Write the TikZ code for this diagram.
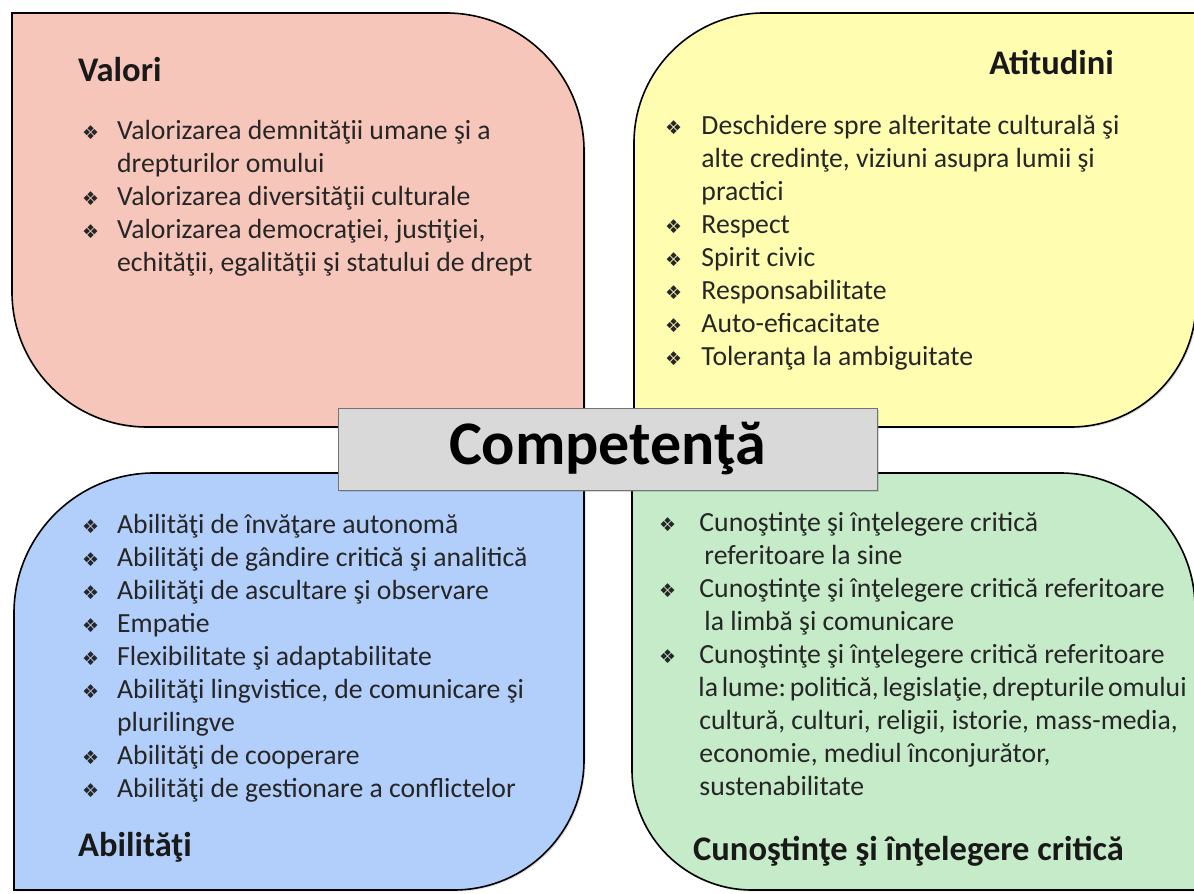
\documentclass[tikz,border=0pt]{standalone}
\usepackage{fontspec}
\setmainfont{Carlito}
\newfontfamily\bulfnt{DejaVu Sans}
\usetikzlibrary{shadows}
\definecolor{pinkfill}{HTML}{F6C6BA}
\definecolor{yellowfill}{HTML}{FFFDB0}
\definecolor{bluefill}{HTML}{B2CEFA}
\definecolor{greenfill}{HTML}{C6EBC8}
\definecolor{compgray}{HTML}{D9D9D9}
\newcommand{\bodyfnt}{\fontsize{27.7}{33}\selectfont\frenchspacing}
\newcommand{\headfnt}{\fontsize{34.5}{40}\selectfont\bfseries}
\newcommand{\blt}[1][35pt]{\makebox[#1][l]{\bulfnt\fontsize{19}{19}\selectfont ❖}}
\newcommand{\ind}[1][35pt]{\hspace*{#1}}
\tikzset{
  box/.style={draw=black,line width=1.6pt,
              drop shadow={opacity=0.25,shadow xshift=1.5pt,shadow yshift=-1.5pt}},
  hd/.style={font=\headfnt,inner sep=0pt,text=black!90},
  lst/.style={anchor=base west,inner sep=0pt,text=black!85},
  comp/.style={rectangle,draw=black!55,fill=compgray,line width=0.8pt,
               minimum width=539pt,minimum height=82pt,
               font=\fontsize{62}{70}\selectfont\bfseries,text=black,
               drop shadow={opacity=0.3,shadow xshift=2pt,shadow yshift=-2pt}},
}

\begin{document}
\begin{tikzpicture}[x=1pt,y=1pt]
  \useasboundingbox (0,0) rectangle (1194,894);
  \fill[white] (0,0) rectangle (1194,894);

  % the four quadrants
  \draw[box,fill=pinkfill] (12,881) -- (446,881)
    arc[start angle=90,end angle=0,radius=138] -- (584,467) -- (147,467)
    arc[start angle=270,end angle=180,radius=135] -- cycle;
  \draw[box,fill=yellowfill] (1196,881) -- (764,881)
    arc[start angle=90,end angle=180,radius=130] -- (634,467) -- (1071,467)
    arc[start angle=270,end angle=360,radius=125] -- cycle;
  \draw[box,fill=bluefill] (14,4) -- (14,281)
    arc[start angle=180,end angle=90,radius=140] -- (584,421) -- (584,134)
    arc[start angle=0,end angle=-90,radius=130] -- cycle;
  \draw[box,fill=greenfill] (632,421) -- (1060,421)
    arc[start angle=90,end angle=0,radius=135] -- (1195,4) -- (752,4)
    arc[start angle=270,end angle=180,radius=120] -- cycle;

  % headings
  \node[hd,anchor=base west] (valori) at (78,812) {Valori};
  \node[hd,anchor=base east] (atitudini) at (1114,819) {Atitudini};
  \node[hd,anchor=base west] (abilitati) at (78,37) {Abilităţi};
  \node[hd,anchor=base west] (cunostinte) at (693,33) {Cunoştinţe şi înţelegere critică};

  % lists
  \node[lst] (valoriL) at (82,754) {\parbox[t]{560pt}{\bodyfnt\raggedright
    \blt Valorizarea demnităţii umane şi a\\
    \ind drepturilor omului\\
    \blt Valorizarea diversităţii culturale\\
    \blt Valorizarea democraţiei, justiţiei,\\
    \ind echităţii, egalităţii şi statului de drept}};
  \node[lst] (atitudiniL) at (665,759) {\parbox[t]{560pt}{\bodyfnt\raggedright
    \blt[30pt] Deschidere spre alteritate culturală şi\\
    \ind[30pt] alte credinţe, viziuni asupra lumii şi\\
    \ind[30pt] practici\\
    \blt[30pt] Respect\\
    \blt[30pt] Spirit civic\\
    \blt[30pt] Responsabilitate\\
    \blt[30pt] Auto-eficacitate\\
    \blt[30pt] Toleranţa la ambiguitate}};
  \node[lst] (abilitatiL) at (82,360) {\parbox[t]{560pt}{\bodyfnt\raggedright
    \blt Abilităţi de învăţare autonomă\\
    \blt Abilităţi de gândire critică şi analitică\\
    \blt Abilităţi de ascultare şi observare\\
    \blt Empatie\\
    \blt Flexibilitate şi adaptabilitate\\
    \blt Abilităţi lingvistice, de comunicare şi\\
    \ind plurilingve\\
    \blt Abilităţi de cooperare\\
    \blt Abilităţi de gestionare a conflictelor}};
  \node[lst] (cunostinteL) at (659,362) {\parbox[t]{600pt}{\bodyfnt\raggedright
    \blt[34pt] Cunoştinţe şi înţelegere critică\\
    \ind[39pt] referitoare la sine\\
    \blt[34pt] Cunoştinţe şi înţelegere critică referitoare\\
    \ind[39pt] la limbă şi comunicare\\
    \blt[34pt] Cunoştinţe şi înţelegere critică referitoare\\
    \ind[33pt] {\spaceskip=0.6\fontdimen2\font la lume: politică, legislaţie, drepturile omului}\\
    \ind[34pt] cultură, culturi, religii, istorie, mass-media,\\
    \ind[34pt] economie, mediul înconjurător,\\
    \ind[34pt] sustenabilitate}};

  % centre label
  \node[comp] (competenta) at (607.5,445) {Competenţă};
\end{tikzpicture}
\end{document}
